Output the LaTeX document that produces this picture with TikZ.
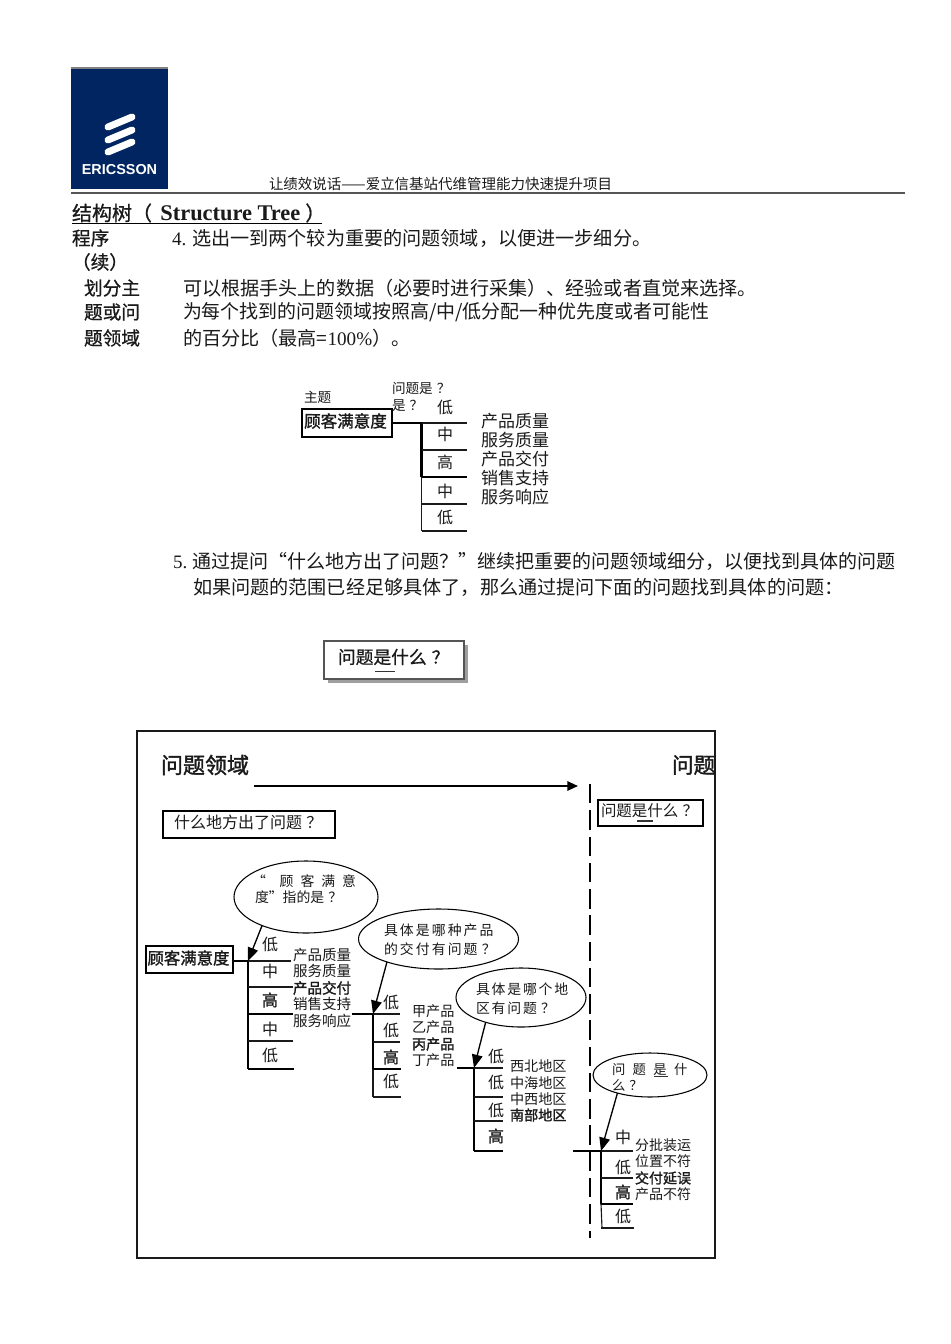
\documentclass[tikz,border=0pt]{standalone}
\usepackage{fontspec}
\setmainfont{Liberation Serif}
\newfontfamily\cj{Noto Sans CJK SC}
\newfontfamily\cjm[FakeBold=1.6]{Noto Sans CJK SC}
\newfontfamily\cjl[FakeBold=0.8]{Noto Sans CJK SC}
\newfontfamily\erf{Liberation Sans}
\usetikzlibrary{arrows.meta,shapes.geometric}
\definecolor{ericblue}{HTML}{002561}
\definecolor{ink}{HTML}{1A1A1A}
\definecolor{soft}{HTML}{333333}
\definecolor{rulegray}{HTML}{555555}
\newcounter{tn}
\newcommand{\fs}[1]{\fontsize{#1}{#1}\selectfont}
% left-anchored text: x y size text
\newcommand{\tx}[4]{\stepcounter{tn}\node[lab,anchor=west] (t\thetn) at (#1,#2) {\fs{#3}#4};}
% centred text
\newcommand{\tcen}[4]{\stepcounter{tn}\node[lab,anchor=center] (t\thetn) at (#1,#2) {\fs{#3}#4};}
% line between two fresh named coordinates: name style x1 y1 x2 y2
\newcommand{\seg}[6]{\coordinate (#1a) at (#3,#4); \coordinate (#1b) at (#5,#6); \draw[#2] (#1a) -- (#1b);}
\newcommand{\qm}{\hspace{0.28em}？}
\tikzset{
  x=0.75pt,y=-0.75pt,
  lab/.style={inner sep=0,outer sep=0,text=ink,font=\cj},
  thin line/.style={line width=0.85pt,draw=ink},
  thick line/.style={line width=1.8pt,draw=black},
  boxed/.style={draw=black,line width=1.9pt,fill=white,inner sep=0,outer sep=0},
  bubble/.style={ellipse,draw=black,line width=0.8pt,fill=white,inner sep=0,outer sep=0},
  pointer/.style={line width=1pt,draw=black,-{Triangle[length=10pt,width=8pt]}},
  stripe/.style={line width=5.2pt,draw=white,line cap=round},
}
\begin{document}
\begin{tikzpicture}
\useasboundingbox (0,0) rectangle (950,1344);
\fill[white] (0,0) rectangle (950,1344);
% logo
\node[fill=ericblue,inner sep=0,outer sep=0,minimum width=97*0.75pt,minimum height=121*0.75pt,anchor=north west] (logo) at (71,68) {};
\seg{logotop}{line width=1.2pt,draw=gray}{71}{68}{168}{68}
\seg{s1}{stripe}{108}{127}{132}{117}
\seg{s2}{stripe}{108}{140}{132}{130}
\seg{s3}{stripe}{108}{152}{132}{142}
\stepcounter{tn}\node[inner sep=0,text=white,font=\erf\bfseries] (eric) at (119.5,170) {\fs{10.8}ERICSSON};
% header
\tx{269}{184}{10.87}{让绩效说话——爱立信基站代维管理能力快速提升项目}
\seg{hr}{line width=1.5pt,draw=rulegray}{71}{193}{905}{193}
% title
\tx{72}{213}{15}{\cjl 结构树（\hspace{0.42em}{\fontspec{Liberation Serif}\bfseries\fs{16.8}Structure Tree}\hspace{0.25em}）}
\seg{tu}{line width=0.9pt,draw=black}{72}{223.5}{322}{223.5}
% left column
\tx{72}{238}{14}{\cjl 程序}
\tx{72}{262}{14}{\cjl （续）}
\tx{84}{288}{14}{\cjl 划分主}
\tx{84}{312}{14}{\cjl 题或问}
\tx{84}{338}{14}{\cjl 题领域}
% body
\tx{172}{238}{14.35}{{\fontspec{Liberation Serif}4.} 选出一到两个较为重要的问题领域，以便进一步细分。}
\tx{183}{288}{14.35}{可以根据手头上的数据（必要时进行采集）、经验或者直觉来选择。}
\tx{183}{312}{14.2}{为每个找到的问题领域按照高/中/低分配一种优先度或者可能性}
\tx{183}{338}{14.35}{的百分比（最高={\fontspec{Liberation Serif}100\%}）。}
\tx{173}{561}{14.25}{{\fontspec{Liberation Serif}5.} 通过提问“什么地方出了问题？”继续把重要的问题领域细分，以便找到具体的问题}
\tx{193}{587}{14.35}{如果问题的范围已经足够具体了，那么通过提问下面的问题找到具体的问题：}
% small tree
\node[boxed,minimum width=90*0.75pt,minimum height=28*0.75pt] (top) at (347,423) {};
\tcen{345.5}{421}{12.4}{\cjm 顾客满意度}
\tx{304}{397}{10.2}{主题}
\tx{392}{388}{10.2}{问题是\hspace{0.3em}？}
\tx{392}{406}{10.2}{是\hspace{0.3em}？}
\coordinate (k0) at (421.5,423); \coordinate (k1) at (421.5,477); \coordinate (k2) at (421.5,531);
\draw[thick line] (top.east) -- (k0) -- (k1);
\draw[thin line] (k1) -- (k2);
\seg{r1}{thin line}{421.5}{423}{467}{423}
\seg{r2}{thin line}{421.5}{450}{467}{450}
\seg{r3}{thick line}{421.5}{477}{467}{477}
\seg{r4}{thin line}{421.5}{504}{467}{504}
\seg{r5}{thin line}{421.5}{531}{467}{531}
\tcen{445}{407}{12}{低}
\tcen{445}{434}{12}{中}
\tcen{445}{462}{12}{高}
\tcen{445}{491}{12}{中}
\tcen{445}{517}{12}{低}
\tx{481}{421}{12.75}{产品质量}
\tx{481}{440}{12.75}{服务质量}
\tx{481}{459}{12.75}{产品交付}
\tx{481}{478}{12.75}{销售支持}
\tx{481}{497}{12.75}{服务响应}
% shadow box
\fill[gray!75] (328,645) rectangle (468,683);
\node[draw=rulegray,line width=1.1pt,fill=white,inner sep=0,outer sep=0,minimum width=140*0.75pt,minimum height=38*0.75pt] (wbox) at (394,660) {};
\tx{338}{657}{13.3}{\cjl 问题是什么\qm}
\seg{wu}{line width=0.8pt,draw=soft}{375}{671.5}{395}{671.5}
% frame
\node[draw=ink,line width=0.95pt,inner sep=0,outer sep=0,minimum width=578*0.75pt,minimum height=527*0.75pt,anchor=north west] (frame) at (137,731) {};
\tx{161}{765}{16.5}{\cjm 问题领域}
\tx{672}{765}{16.2}{\cjm 问题}
\coordinate (as) at (254,786); \coordinate (ae) at (578,786);
\draw[line width=1.5pt,draw=black,-{Triangle[length=8pt,width=7pt]}] (as) -- (ae);
\coordinate (ds) at (590,784); \coordinate (de) at (590,1238);
\draw[line width=1.9pt,draw=black,dash pattern=on 14.6pt off 5.1pt] (ds) -- (de);
\node[boxed,minimum width=172*0.75pt,minimum height=27*0.75pt,anchor=north west] (where) at (163,811) {};
\tx{174}{822}{12}{什么地方出了问题\qm}
\node[draw=black,line width=1.5pt,fill=white,inner sep=0,outer sep=0,minimum width=105*0.75pt,minimum height=26*0.75pt,anchor=north west] (what) at (598,800) {};
\tx{601}{811}{11.6}{问题是什么\qm}
\seg{wu2}{line width=0.8pt,draw=soft}{637}{821}{653}{821}
% tree A
\node[boxed,minimum width=87*0.75pt,minimum height=27*0.75pt,anchor=north west] (csat) at (146,946) {};
\tcen{188.5}{958}{12.3}{\cjm 顾客满意度}
\node[bubble,minimum width=144*0.75pt,minimum height=72*0.75pt] (e1) at (306,897) {};
\coordinate (a0) at (248,961); \coordinate (a1) at (248,1014); \coordinate (a2) at (248,1069);
\draw[thick line] (csat.east |- a0) -- (a0) -- (a1);
\draw[line width=1.1pt,draw=black] (a1) -- (a2);
\seg{ar1}{thin line}{248}{961}{291}{961}
\seg{ar2}{thin line}{248}{987}{293}{987}
\seg{ar3}{thick line}{248}{1014}{293}{1014}
\seg{ar4}{thin line}{248}{1041}{293}{1041}
\seg{ar5}{line width=1.1pt,draw=black}{248}{1069}{294}{1069}
\draw[pointer] (e1.213) -- (a0);
\tx{252}{881}{10.4}{“\hspace{1em}顾\hspace{0.5em}客\hspace{0.5em}满\hspace{0.5em}意}
\tx{255}{897}{10.4}{度”指的是\hspace{0.3em}？}
\tcen{270}{944}{12}{低}
\tcen{270}{971}{12}{中}
\tcen{270}{1000}{12}{\cjm 高}
\tcen{270}{1029}{12}{中}
\tcen{270}{1055}{12}{低}
\tx{293}{955}{10.9}{产品质量}
\tx{293}{971}{10.9}{服务质量}
\tx{293}{988}{10.9}{\cjm 产品交付}
\tx{293}{1004}{10.9}{销售支持}
\tx{293}{1021}{10.9}{服务响应}
% tree B
\node[bubble,minimum width=160*0.75pt,minimum height=60*0.75pt] (e2) at (438.5,939) {};
\coordinate (b00) at (352,1014); \coordinate (b0) at (373,1014); \coordinate (b1) at (373,1069); \coordinate (b2) at (373,1097);
\draw[thick line] (b00) -- (b0);
\draw[line width=1.5pt,draw=black] (b0) -- (b1);
\draw[thin line] (b1) -- (b2);
\seg{br1}{thin line}{373}{1014}{400}{1014}
\seg{br2}{thin line}{373}{1042}{400}{1042}
\seg{br3}{thick line}{373}{1069}{401}{1069}
\seg{br4}{thin line}{373}{1097}{401}{1097}
\draw[pointer] (e2.204) -- (b0);
\tx{384}{930}{10.4}{具\hspace{0.15em}体\hspace{0.15em}是\hspace{0.15em}哪\hspace{0.15em}种\hspace{0.15em}产\hspace{0.15em}品}
\tx{384}{949}{10.4}{的\hspace{0.15em}交\hspace{0.15em}付\hspace{0.15em}有\hspace{0.15em}问\hspace{0.15em}题\hspace{0.3em}？}
\tcen{391}{1002}{12}{低}
\tcen{391}{1030}{12}{低}
\tcen{391}{1057}{12}{\cjm 高}
\tcen{391}{1081}{12}{低}
\tx{412}{1011}{10.6}{甲产品}
\tx{412}{1027}{10.6}{乙产品}
\tx{412}{1044}{10.6}{\cjm 丙产品}
\tx{412}{1060}{10.6}{丁产品}
% tree C
\node[bubble,minimum width=130*0.75pt,minimum height=59*0.75pt] (e3) at (521,997.5) {};
\coordinate (c00) at (457,1068); \coordinate (c0) at (474,1068); \coordinate (c1) at (474,1151);
\draw[thick line] (c00) -- (c0) -- (c1);
\seg{cr1}{thin line}{474}{1068}{503}{1068}
\seg{cr2}{thin line}{474}{1097}{503}{1097}
\seg{cr3}{thin line}{474}{1121}{503}{1121}
\seg{cr4}{thick line}{474}{1151}{503}{1151}
\draw[pointer] (e3.215) -- (c0);
\tx{476}{989}{10.4}{具\hspace{0.13em}体\hspace{0.13em}是\hspace{0.13em}哪\hspace{0.13em}个\hspace{0.13em}地}
\tx{476}{1008}{10.4}{区\hspace{0.13em}有\hspace{0.13em}问\hspace{0.13em}题\hspace{0.3em}？}
\tcen{496}{1056}{12}{低}
\tcen{496}{1082}{12}{低}
\tcen{496}{1110}{12}{低}
\tcen{496}{1136}{12}{\cjm 高}
\tx{510}{1066}{10.6}{西北地区}
\tx{510}{1083}{10.6}{中海地区}
\tx{510}{1099}{10.6}{中西地区}
\tx{510}{1115}{10.6}{\cjm 南部地区}
% tree D
\node[bubble,minimum width=114*0.75pt,minimum height=44*0.75pt] (e4) at (650,1075) {};
\coordinate (d00) at (573,1151); \coordinate (d0) at (601,1151); \coordinate (d1) at (601,1204); \coordinate (d2) at (602,1228);
\draw[thick line] (d00) -- (d0) -- (d1);
\draw[thin line] (d1) -- (d2);
\seg{dr1}{thin line}{601}{1151}{633}{1151}
\seg{dr2}{thin line}{601}{1178}{633}{1178}
\seg{dr3}{thick line}{601}{1204}{633}{1204}
\seg{dr4}{thin line}{601}{1228}{634}{1228}
\draw[pointer] (e4.209) -- (d0);
\tx{612}{1069}{10}{问\hspace{0.55em}题\hspace{0.55em}是\hspace{0.55em}什}
\seg{wu3}{line width=0.7pt,draw=soft}{654}{1076}{668}{1076}
\tx{612}{1085}{10}{么\hspace{0.3em}？}
\tcen{623}{1137}{12}{中}
\tcen{623}{1167}{12}{低}
\tcen{623}{1192}{12}{\cjm 高}
\tcen{623}{1216}{12}{低}
\tx{635}{1145}{10.5}{分批装运}
\tx{635}{1161}{10.5}{位置不符}
\tx{635}{1178}{10.5}{\cjm 交付延误}
\tx{635}{1194}{10.5}{产品不符}
\end{tikzpicture}
\end{document}
